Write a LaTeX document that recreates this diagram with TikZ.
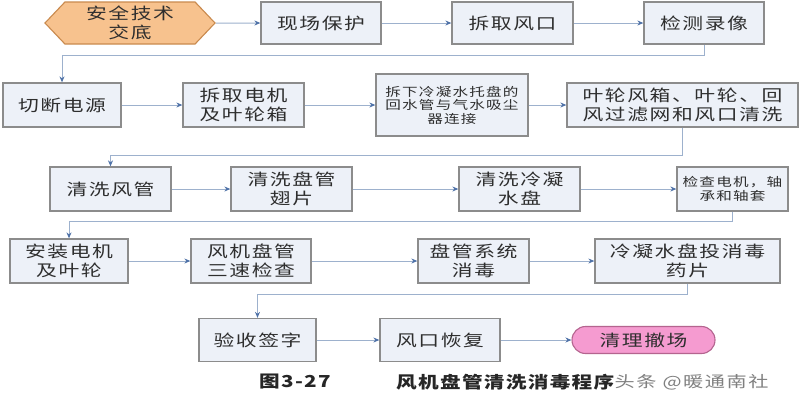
\documentclass[tikz,border=0pt]{standalone}
\usepackage{fontspec}
\usetikzlibrary{arrows.meta,shapes.misc,shapes.symbols}
\newfontfamily\cjk[FakeStretch=1.3,LetterSpace=10]{Noto Sans CJK SC}
\newfontfamily\cjkcap[FakeStretch=1.25,LetterSpace=8]{Noto Sans CJK SC}
\newfontfamily\cjkwm[FakeStretch=1.3,LetterSpace=10]{Noto Sans CJK SC}
\definecolor{boxfill}{HTML}{EDF1F8}
\definecolor{boxline}{HTML}{8C8C8C}
\definecolor{connc}{HTML}{9DB1CD}
\definecolor{tipc}{HTML}{4F72A8}
\definecolor{hexfill}{HTML}{F7C28E}
\definecolor{hexline}{HTML}{C98A4E}
\definecolor{pillfill}{HTML}{F59BD0}
\definecolor{pillline}{HTML}{B4648F}
\definecolor{txt}{HTML}{2E2E2E}
\begin{document}
\begin{tikzpicture}[x=1pt,y=-1pt,
 proc/.style={draw=boxline,line width=1.3pt,fill=boxfill,inner sep=0pt,align=center,text=txt,
   font=\cjk\fontsize{16}{19}\selectfont,minimum height=44},
 smalltxt/.style={font=\cjk\fontsize{12}{13.5}\selectfont},
 conn/.style={draw=connc,line width=1pt,-{Stealth[length=6pt,width=5pt,color=tipc]}}]
\fill[white] (0,0) rectangle (800,400);
\useasboundingbox (0,0) rectangle (800,400);
% row 1
\node[signal,signal to=west and east,signal pointer angle=93,draw=hexline,line width=1.1pt,fill=hexfill,
  minimum width=170,minimum height=42,inner sep=0pt,align=center,text=txt,font=\cjk\fontsize{16}{19}\selectfont] (hex) at (130,23) {安全技术\\交底};
\node[proc,minimum width=120,minimum height=42] (b2) at (321,23) {现场保护};
\node[proc,minimum width=121,minimum height=42] (b3) at (512.5,23) {拆取风口};
\node[proc,minimum width=120,minimum height=42] (b4) at (704,23) {检测录像};
% row 2
\node[proc,minimum width=118] (c1) at (62,105) {切断电源};
\node[proc,minimum width=121] (c2) at (243.5,105) {拆取电机\\及叶轮箱};
\node[proc,smalltxt,minimum width=152,minimum height=62] (c3) at (452,105) {拆下冷凝水托盘的\\回水管与气水吸尘\\器连接};
\node[proc,minimum width=231] (c4) at (682.5,105) {叶轮风箱、叶轮、回\\风过滤网和风口清洗};
% row 3
\node[proc,minimum width=121] (d1) at (110.5,189) {清洗风管};
\node[proc,minimum width=121] (d2) at (291.5,189) {清洗盘管\\翅片};
\node[proc,minimum width=121] (d3) at (519.5,189) {清洗冷凝\\水盘};
\node[proc,smalltxt,minimum width=111] (d4) at (732.5,189) {检查电机，轴\\承和轴套};
% row 4
\node[proc,minimum width=118] (e1) at (69,261) {安装电机\\及叶轮};
\node[proc,minimum width=120] (e2) at (251,261) {风机盘管\\三速检查};
\node[proc,minimum width=111] (e3) at (473.5,261) {盘管系统\\消毒};
\node[proc,minimum width=185] (e4) at (687.5,261) {冷凝水盘投消毒\\药片};
% row 5
\node[proc,minimum width=117,minimum height=43] (f1) at (257.5,340) {验收签字};
\node[proc,minimum width=120,minimum height=43] (f2) at (440,340) {风口恢复};
\node[rounded rectangle,draw=pillline,line width=1.1pt,fill=pillfill,minimum width=143,minimum height=27,
  inner sep=0pt,text=txt,font=\cjk\fontsize{16}{19}\selectfont] (f3) at (643.5,340) {清理撤场};
% connectors
\draw[conn] (hex) -- (b2);
\draw[conn] (b2) -- (b3);
\draw[conn] (b3) -- (b4);
\draw[conn] (b4.south) -- ++(0,11) -| (c1.north);
\draw[conn] (c1) -- (c2);
\draw[conn] (c2) -- (c3);
\draw[conn] (c3) -- (c4);
\draw[conn] (c4.south) -- ++(0,28) -| (d1.north);
\draw[conn] (d1) -- (d2);
\draw[conn] (d2) -- (d3);
\draw[conn] (d3) -- (d4);
\draw[conn] (d4.south) -- ++(0,10) -| (e1.north);
\draw[conn] (e1) -- (e2);
\draw[conn] (e2) -- (e3);
\draw[conn] (e3) -- (e4);
\draw[conn] (e4.south) -- ++(0,11) -| (f1.north);
\draw[conn] (f1) -- (f2);
\draw[conn] (f2) -- (f3);
% caption
\node[anchor=west,inner sep=0pt,font=\cjkcap\bfseries\fontsize{16.5}{18}\selectfont,text=black!85] (cap1) at (259,382) {图3-27};
\node[anchor=west,inner sep=0pt,font=\cjkcap\bfseries\fontsize{16.5}{18}\selectfont,text=black!85] (cap2) at (396,382) {风机盘管清洗消毒程序};
\node[anchor=west,inner sep=0pt,font=\cjkwm\fontsize{15.5}{17}\selectfont,text=black!50] (wm) at (cap2.east) {头条 @暖通南社};
\end{tikzpicture}
\end{document}
